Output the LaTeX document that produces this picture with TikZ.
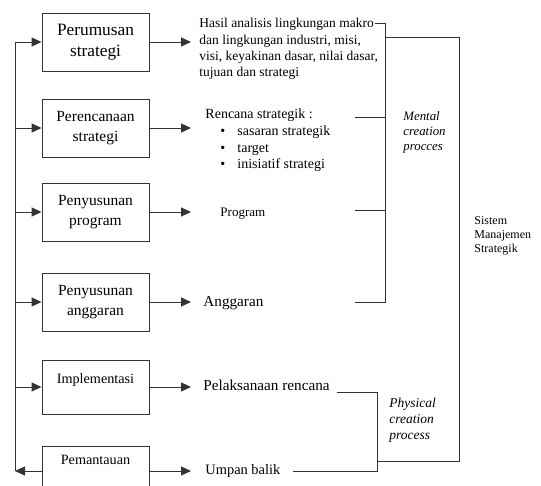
\documentclass[tikz,border=0pt]{standalone}
\usepackage{fontspec}
\setmainfont{Liberation Serif}
\usetikzlibrary{arrows.meta,positioning}

\begin{document}
\begin{tikzpicture}[x=1pt,y=-1pt,line width=0.9pt]
  \tikzstyle{box}=[draw=black!80,minimum width=107pt,minimum height=58pt,inner sep=2pt,align=center,font=\fontsize{15.5}{20}\selectfont]
  \tikzstyle{txt}=[inner sep=0pt,align=left,font=\fontsize{13.5}{16.3}\selectfont]
  \tikzstyle{arr}=[draw=black!80,-{Triangle[length=10pt,width=9pt]}]
  \tikzstyle{line}=[draw=black!80]

  \useasboundingbox (0,0) rectangle (541,486);
  \clip (0,0) rectangle (541,486);

  % stages
  \node[box,font=\fontsize{17.3}{21}\selectfont] (b-1) at (95.5,42) {Perumusan\\strategi};
  \foreach \name/\y/\text in {b-2/128/{Perencanaan\\strategi}, b-3/212/{Penyusunan\\program},
                              b-4/302/{Penyusunan\\anggaran}}
    \node[box] (\name) at (95.5,\y) {\text};
  \node[box,minimum height=54pt,font=\fontsize{14.2}{18}\selectfont,text height=10pt,text depth=16pt] (b-5) at (95.5,387) {Implementasi};
  \node[box,minimum height=50pt,font=\fontsize{14.2}{18}\selectfont,text height=10pt,text depth=24pt] (b-6) at (95.5,471) {Pemantauan};

  % feedback loop
  \coordinate (spine) at (15,0);
  \coordinate (tip) at (191,0);
  \draw[line] (spine |- b-1.west) -- (spine |- b-6.west);
  \foreach \i in {1,...,5}
    { \draw[arr] (spine |- b-\i.west) -- (b-\i.west); }
  \draw[arr] (b-6.west) -- (spine |- b-6.west);
  \foreach \i in {1,...,6}
    { \draw[arr] (b-\i.east) -- (tip |- b-\i.east); }

  % outputs
  \node[txt,anchor=north west] (hasil) at (199,18) {Hasil analisis lingkungan makro\\dan lingkungan industri, misi,\\visi, keyakinan dasar, nilai dasar,\\tujuan dan strategi};
  \node[txt,font=\fontsize{14}{16.7}\selectfont,anchor=north west] (rencana) at (205,108.5) {Rencana strategik :\\
    \hspace*{15pt}\makebox[17pt][l]{\textbullet}sasaran strategik\\
    \hspace*{15pt}\makebox[17pt][l]{\textbullet}target\\
    \hspace*{15pt}\makebox[17pt][l]{\textbullet}inisiatif strategi};
  \node[txt,font=\fontsize{13}{16}\selectfont,anchor=base west] (program) at (220,217) {Program};
  \node[txt,font=\fontsize{15.2}{18}\selectfont,anchor=base west] (anggaran) at (203,307) {Anggaran};
  \node[txt,font=\fontsize{15.2}{18}\selectfont,anchor=base west] (pelaksanaan) at (203,390) {Pelaksanaan rencana};
  \node[txt,font=\fontsize{14.4}{18}\selectfont,anchor=base west] (umpan) at (205,474) {Umpan balik};

  \node[txt,font=\itshape\fontsize{12.8}{15}\selectfont,anchor=north west] (mental) at (403,111) {Mental\\creation\\procces};
  \node[txt,font=\itshape\fontsize{13.5}{16}\selectfont,anchor=north west] (physical) at (389,398) {Physical\\creation\\process};
  \node[txt,font=\fontsize{12}{14.2}\selectfont,anchor=north west] (sms) at (474,216) {Sistem\\Manajemen\\Strategik};

  % brackets
  \coordinate (hasil-end) at (375,23);
  \coordinate (m-top) at (385,23);
  \coordinate (m-bot) at (385,302);
  \coordinate (m-out) at (385,37);
  \coordinate (s-top) at (459,37);
  \coordinate (s-bot) at (459,461);
  \coordinate (p-out) at (377,461);
  \coordinate (p-top) at (377,392);
  \coordinate (p-bot) at (377,471);
  \foreach \name/\y in {r-in/117, g-in/210, a-in/302}
    \coordinate (\name) at (355,\y);
  \coordinate (pl-in) at (337,392);
  \coordinate (u-in) at (293,471);

  \draw[line] (hasil-end) -- (m-top) -- (m-bot) -- (a-in);
  \foreach \name in {r-in,g-in}
    { \draw[line] (\name) -- (\name -| m-top); }
  \draw[line] (m-out) -- (s-top) -- (s-bot) -- (p-out);
  \draw[line] (pl-in) -- (p-top) -- (p-bot) -- (u-in);
\end{tikzpicture}
\end{document}
